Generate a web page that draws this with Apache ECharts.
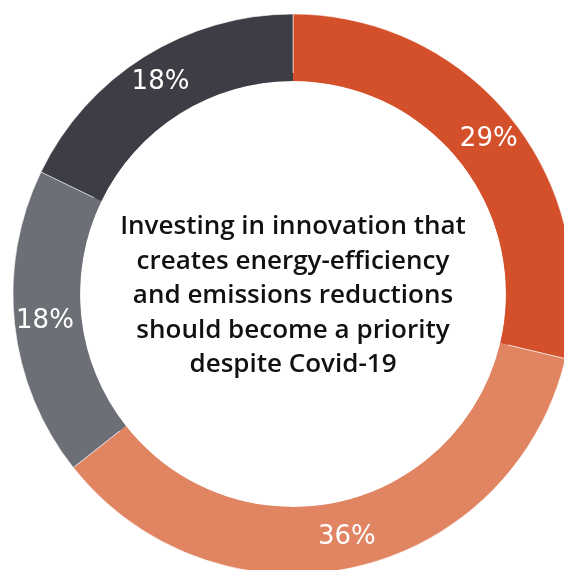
<!DOCTYPE html>
<html>
<head>
<meta charset="utf-8">
<script src="https://cdn.jsdelivr.net/npm/echarts@6/dist/echarts.min.js"></script>
<style>
  html, body { margin: 0; padding: 0; background: #fff; }
  #chart { width: 564px; height: 570px; }
</style>
</head>
<body>
<div id="chart"></div>
<script>
// Survey shares, clockwise from 12 o'clock
const categories = ['Strongly agree', 'Agree', 'Neutral', 'Disagree'];
const shares = [29, 36, 18, 18];
const colors = ['#D3502B', '#E08461', '#6C6F76', '#3D3D46'];
const innerShade = ['#CB4B28', '#D87D5B', '#66686F', '#393941'];
const centerText = [
  'Investing in innovation that',
  'creates energy-efficiency',
  'and emissions reductions',
  'should become a priority',
  'despite Covid-19'
];

const cx = 293, cy = 294;
const chart = echarts.init(document.getElementById('chart'), null, { renderer: 'canvas' });

const pieData = categories.map((name, i) => ({ name, value: shares[i] }));

chart.setOption({
  animation: false,
  backgroundColor: '#ffffff',
  series: [
    {
      type: 'pie',
      center: [cx, cy],
      radius: [213, 280],
      startAngle: 90,
      clockwise: true,
      silent: true,
      color: colors,
      itemStyle: { borderColor: 'rgba(255,255,255,0.55)', borderWidth: 1 },
      label: {
        show: true,
        position: 'inside',
        formatter: '{c}%',
        color: '#ffffff',
        fontFamily: 'DejaVu Sans',
        fontSize: 26,
        fontWeight: 'normal'
      },
      labelLine: { show: false },
      data: pieData
    },
    {
      // darker inner rim of the ring
      type: 'pie',
      center: [cx, cy],
      radius: [213, 221],
      startAngle: 90,
      clockwise: true,
      silent: true,
      color: innerShade,
      itemStyle: { borderWidth: 0 },
      label: { show: false },
      labelLine: { show: false },
      data: pieData
    }
  ],
  graphic: [
    {
      type: 'text',
      x: cx,
      y: cy + 2,
      style: {
        text: centerText.join('\n'),
        fill: '#111111',
        font: '600 26px "Open Sans"',
        lineHeight: 34.5,
        align: 'center',
        verticalAlign: 'middle'
      }
    }
  ]
});
</script>
</body>
</html>
